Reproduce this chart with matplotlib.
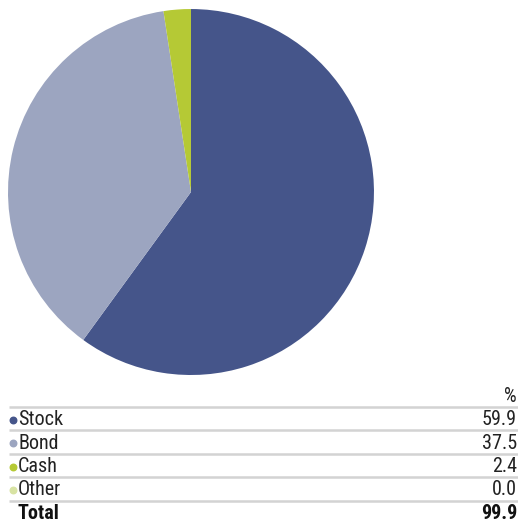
import matplotlib
matplotlib.use("Agg")
import matplotlib.pyplot as plt
from matplotlib import font_manager

# Asset allocation data
categories = ["Stock", "Bond", "Cash", "Other"]
values = [59.9, 37.5, 2.4, 0.0]
total_label = "Total"
total_value = 99.9
colors = ["#45558a", "#9ca5c0", "#b5c935", "#d8e3a3"]

names = {f.name for f in font_manager.fontManager.ttflist}
narrow = [n for n in ['Liberation Sans Narrow', 'Roboto Condensed', 'DejaVu Sans Condensed'] if n in names]
plt.rcParams['font.family'] = narrow + ['DejaVu Sans']

fig = plt.figure(figsize=(5.18, 5.22), dpi=100)

# Pie
ax = fig.add_axes([0.0154, 0.2816, 0.7066, 0.7011])
ax.pie(values, colors=colors, startangle=90, counterclock=False,
       radius=1, wedgeprops=dict(linewidth=0))
ax.set_xlim(-1, 1)
ax.set_ylim(-1, 1)
ax.set_aspect('equal')
ax.axis('off')

# Table overlay in pixel coords
tab = fig.add_axes([0, 0, 1, 1])
tab.set_xlim(0, 518)
tab.set_ylim(522, 0)
tab.axis('off')

fs = 14.5
tc = '#222222'
row_top = 407
row_h = 23.4
tab.text(517, 397, "%", ha='right', va='center', fontsize=fs, color=tc)
for i, (cat, val) in enumerate(zip(categories, values)):
    y_line = row_top + i * row_h
    tab.plot([9, 518], [y_line, y_line], color='#d3d3d3', lw=1.8, solid_capstyle='butt')
    y_txt = y_line + row_h / 2 + 1
    tab.scatter([12.5], [y_txt], s=22, color=colors[i], zorder=3)
    tab.text(18, y_txt, cat, ha='left', va='center', fontsize=fs, color=tc)
    tab.text(517, y_txt, f"{val:.1f}", ha='right', va='center', fontsize=fs, color=tc)

y_line = row_top + len(categories) * row_h
tab.plot([9, 518], [y_line, y_line], color='#d3d3d3', lw=1.8, solid_capstyle='butt')
y_txt = y_line + row_h / 2 + 1
tab.text(18, y_txt, total_label, ha='left', va='center', fontsize=fs,
         fontweight='bold', color='#111111')
tab.text(517, y_txt, f"{total_value:.1f}", ha='right', va='center', fontsize=fs,
         fontweight='bold', color='#111111')

fig.savefig("out.png", dpi=100)
